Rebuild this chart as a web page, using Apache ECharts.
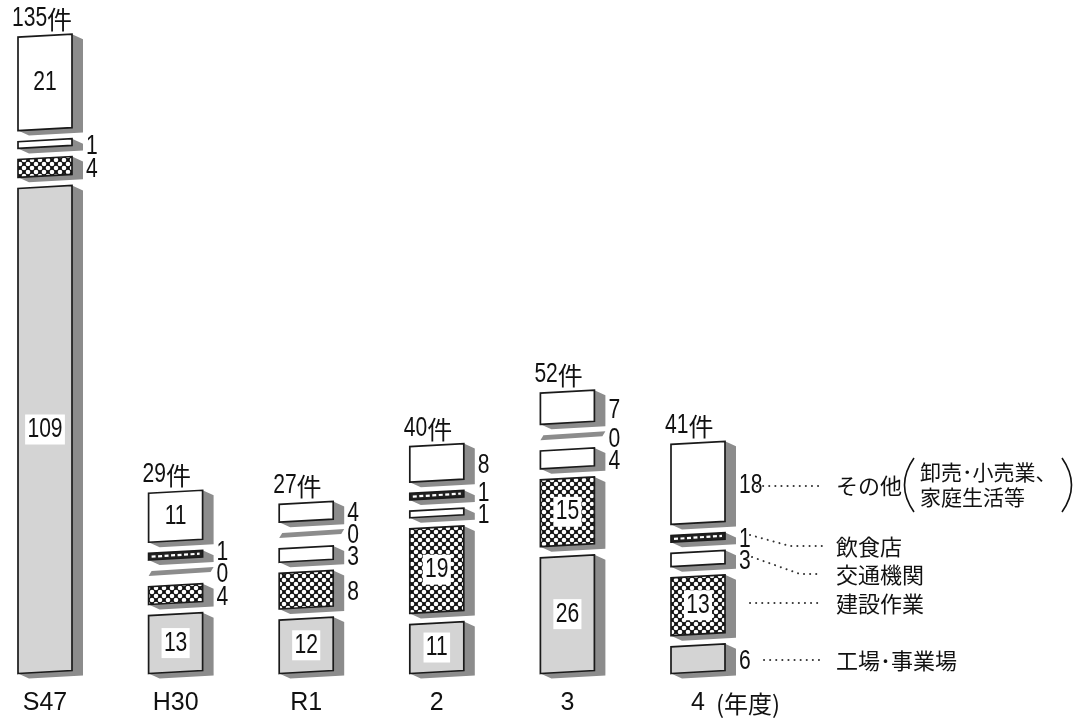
<!DOCTYPE html>
<html><head><meta charset="utf-8">
<script src="https://cdn.jsdelivr.net/npm/echarts@6/dist/echarts.min.js"></script>
<style>html,body{margin:0;padding:0;background:#fff}#c{width:1078px;height:720px}</style>
</head><body><div id="c"></div>
<script>
// ---- data ----
const categories = ['S47', 'H30', 'R1', '2', '3', '4'];
const totals = [135, 29, 27, 40, 52, 41];
const factory = [109, 13, 12, 11, 26, 6];        // 工場・事業場
const construction = [4, 4, 8, 19, 15, 13];      // 建設作業
const traffic = [1, 0, 3, 1, 4, 3];              // 交通機関
const restaurant = [null, 1, 0, 1, 0, 1];        // 飲食店
const others = [21, 11, 4, 8, 7, 18];            // その他
const seriesNames = ['工場・事業場', '建設作業', '交通機関', '飲食店', 'その他'];
const seriesValues = [factory, construction, traffic, restaurant, others];

// ---- drawing constants ----
const PXU = 4.45;           // px per unit on the value axis
const GAP = 2.5;            // gap between blocks (value units)
const MIN_H = 1.5;          // minimum block height for small values
const SLAB = 1.0;           // thickness of a zero slab
const LABEL_SP = 22 / PXU;  // min spacing between side labels
const BW = 54, DX = 11, DY = 5, T = 3;
const NUMFONT = "27px 'Liberation Sans',Arial,sans-serif";
const SX = 0.78;            // horizontal condensing of numbers
const CJK = "'Noto Sans CJK JP',sans-serif";
const INK = '#1a1a1a', SHADOW = '#8c8c8c';

// hatch pattern
const pc = document.createElement('canvas');
pc.width = 8; pc.height = 8;
const g = pc.getContext('2d');
g.fillStyle = '#111'; g.fillRect(0, 0, 8, 8);
g.fillStyle = '#fff';
[[0, 0], [8, 0], [0, 8], [8, 8], [4, 4]].forEach(p => { g.beginPath(); g.arc(p[0], p[1], 2.3, 0, Math.PI * 2); g.fill(); });
const hatch = { image: pc, repeat: 'repeat' };

// ---- layout in value units ----
const layout = seriesValues.map(() => []);
categories.forEach((c, i) => {
  let cur = null;
  const segs = [];
  seriesValues.forEach((arr, s) => {
    const v = arr[i];
    if (v === null || v === undefined) return;
    const h = v === 0 ? SLAB : Math.max(v, MIN_H);
    const base = cur === null ? 0 : cur + GAP;
    const top = base + h;
    cur = top;
    const inside = v >= 11 && !(i === categories.length - 1 && s === 4);
    segs.push({ s, v, base, top, inside, lab: (base + top) / 2 - 3 / PXU });
  });
  let prev = null;
  segs.forEach(sg => {
    if (sg.inside) return;
    if (prev !== null && sg.lab < prev + LABEL_SP) sg.lab = prev + LABEL_SP;
    prev = sg.lab;
  });
  segs.forEach(sg => layout[sg.s].push([i, sg.base, sg.top, sg.v, sg.lab, sg.inside ? 1 : 0]));
});

function numText(x, y, text, align, bg) {
  const st = { text: text, font: NUMFONT, fill: '#111', align: align, verticalAlign: 'middle' };
  if (bg) { st.backgroundColor = '#fff'; st.padding = [3, 3, 0, 3]; }
  return { type: 'text', x: x, y: y, scaleX: SX, style: st };
}

function makeRender(s) {
  return function (params, api) {
    const i = api.value(0), base = api.value(1), top = api.value(2), v = api.value(3), lab = api.value(4), inside = api.value(5);
    const pb = api.coord([i, base]), pt = api.coord([i, top]);
    const cx = pb[0], x0 = cx - BW / 2, x1 = cx + BW / 2, yb = pb[1], yt = pt[1];
    const ch = [];
    if (v === 0) {
      const yc = (yb + yt) / 2;
      ch.push({ type: 'polygon', shape: { points: [[x0, yc + 2.5 + T / 2], [x1 + DX - 3, yc + 2.5 - T / 2 - 1], [x1 + DX, yc - 2.5 - T / 2 - 1], [x0 + 3, yc - 2.5 + T / 2]] }, style: { fill: SHADOW } });
    } else {
      ch.push({ type: 'polygon', shape: { points: [[x1, yt - T / 2], [x1 + DX, yt - T / 2 + DY], [x1 + DX, yb - T / 2 + DY], [x0 + DX, yb + T / 2 + DY], [x0, yb + T / 2], [x0, yt + T / 2]] }, style: { fill: SHADOW } });
      const fill = s === 0 ? '#d4d4d4' : (s === 1 ? hatch : (s === 3 ? '#222' : '#fff'));
      ch.push({ type: 'polygon', shape: { points: [[x0, yb + T / 2], [x1, yb - T / 2], [x1, yt - T / 2], [x0, yt + T / 2]] }, style: { fill: fill, stroke: INK, lineWidth: 1.7, lineJoin: 'miter' } });
      if (s === 3) {
        const ym = (yb + yt) / 2;
        ch.push({ type: 'line', shape: { x1: x0 + 3, y1: ym + T / 2, x2: x1 - 3, y2: ym - T / 2 }, style: { stroke: '#fff', lineWidth: 2.2, lineDash: [4, 2.5] } });
      }
    }
    if (inside) {
      ch.push(numText(cx, (yb + yt) / 2, String(v), 'center', true));
    } else {
      ch.push(numText(x1 + 14, api.coord([i, lab])[1], String(v), 'left', false));
    }
    if (s === 4) {
      const t = String(totals[i]);
      const ty = yt - 17;
      ch.push(numText(x0 - 6, ty, t, 'left', false));
      ch.push({ type: 'text', x: x0 - 6 + t.length * 11.7, y: ty + 1, style: { text: '件', font: '25px ' + CJK, fill: '#111', align: 'left', verticalAlign: 'middle' } });
    }
    return { type: 'group', children: ch };
  };
}

const series = seriesNames.map((name, s) => ({
  name, type: 'custom', renderItem: makeRender(s), clip: false,
  encode: { x: 0, y: [1, 2] }, data: layout[s]
}));

// ---- annotation (legend) ----
const dot = { stroke: '#333', lineWidth: 2, lineDash: [0.1, 6], lineCap: 'round', fill: null };
const ann = [
  { type: 'polyline', shape: { points: [[757, 486], [822, 486]] }, style: dot },
  { type: 'polyline', shape: { points: [[750, 535], [790, 546], [822, 546]] }, style: dot },
  { type: 'polyline', shape: { points: [[752, 557], [800, 574], [822, 574]] }, style: dot },
  { type: 'polyline', shape: { points: [[750, 603], [822, 603]] }, style: dot },
  { type: 'polyline', shape: { points: [[764, 660], [822, 660]] }, style: dot },
  { type: 'text', x: 836, y: 486, style: { text: 'その他', font: '22px ' + CJK, fill: '#111', verticalAlign: 'middle' } },
  { type: 'bezierCurve', shape: { x1: 914, y1: 458, cpx1: 895, cpy1: 485, x2: 914, y2: 512 }, style: { stroke: '#111', lineWidth: 1.6, fill: null } },
  { type: 'text', x: 920, y: 472, style: { text: '卸売･小売業、', font: '21px ' + CJK, fill: '#111', verticalAlign: 'middle' } },
  { type: 'text', x: 920, y: 497, style: { text: '家庭生活等', font: '21px ' + CJK, fill: '#111', verticalAlign: 'middle' } },
  { type: 'bezierCurve', shape: { x1: 1062, y1: 458, cpx1: 1081, cpy1: 485, x2: 1062, y2: 512 }, style: { stroke: '#111', lineWidth: 1.6, fill: null } },
  { type: 'text', x: 836, y: 547, style: { text: '飲食店', font: '22px ' + CJK, fill: '#111', verticalAlign: 'middle' } },
  { type: 'text', x: 836, y: 575, style: { text: '交通機関', font: '22px ' + CJK, fill: '#111', verticalAlign: 'middle' } },
  { type: 'text', x: 836, y: 604, style: { text: '建設作業', font: '22px ' + CJK, fill: '#111', verticalAlign: 'middle' } },
  { type: 'text', x: 836, y: 661, style: { text: '工場･事業場', font: '22px ' + CJK, fill: '#111', verticalAlign: 'middle' } },
  { type: 'text', x: 716, y: 704, style: { text: '(年度)', font: '24px ' + CJK, fill: '#111', verticalAlign: 'middle' } }
];

const chart = echarts.init(document.getElementById('c'), null, { renderer: 'canvas' });
chart.setOption({
  backgroundColor: '#fff',
  animation: false,
  grid: { left: 45, right: 380, bottom: 48, top: 720 - 48 - 150 * PXU },
  xAxis: {
    type: 'category', data: categories, boundaryGap: false,
    axisLine: { show: false }, axisTick: { show: false }, splitLine: { show: false },
    axisLabel: { fontSize: 25, fontFamily: "'Liberation Sans',Arial,sans-serif", color: '#111', margin: 19, interval: 0 }
  },
  yAxis: { type: 'value', min: 0, max: 150, show: false },
  series: series,
  graphic: ann
});
</script>
</body></html>
